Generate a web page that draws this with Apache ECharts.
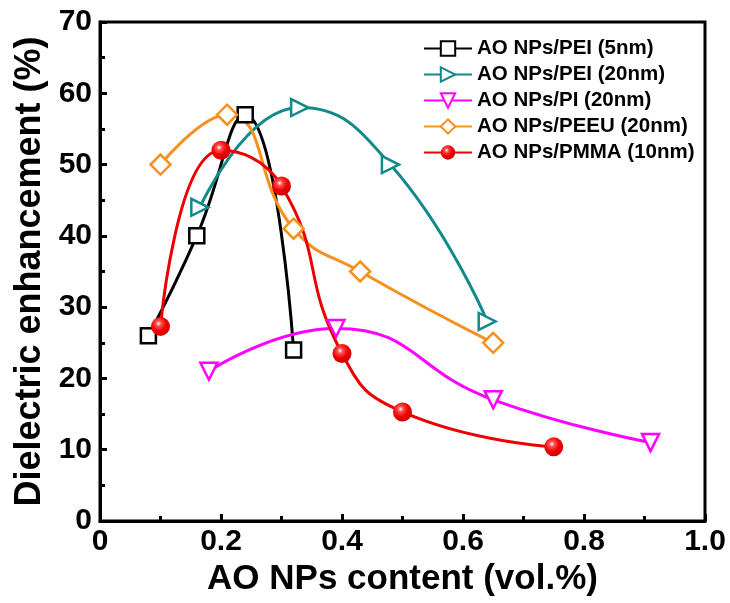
<!DOCTYPE html>
<html><head><meta charset="utf-8">
<script src="https://cdn.jsdelivr.net/npm/echarts@6/dist/echarts.min.js"></script>
<style>html,body{margin:0;padding:0;background:#fff}#c{width:730px;height:603px}</style>
</head><body><div id="c"></div>
<script>
const seriesNames = ['AO NPs/PEI (5nm)','AO NPs/PEI (20nm)','AO NPs/PI (20nm)','AO NPs/PEEU (20nm)','AO NPs/PMMA (10nm)'];
const pei5X = [0.08,0.16,0.24,0.32];
const pei5Y = [26,40,57,24];
const pei20X = [0.165,0.33,0.48,0.64];
const pei20Y = [44,58,50,28];
const pi20X = [0.18,0.39,0.65,0.91];
const pi20Y = [21,27,17,11];
const peeuX = [0.10,0.21,0.32,0.43,0.65];
const peeuY = [50,57,41,35,25];
const pmmaX = [0.10,0.20,0.30,0.40,0.50,0.75];
const pmmaY = [27.3,52,47,23.5,15.3,10.4];

const FONT = 'Liberation Sans, Arial, sans-serif';
const zip = (xs, ys) => xs.map((x, i) => [x, ys[i]]);

const chart = echarts.init(document.getElementById('c'), null, {renderer:'canvas'});
function lineSeries(name, xs, ys, color, symbol, size, rot, filled) {
  return {
    name, type:'line', data: zip(xs, ys), smooth:0.5,
    symbol, symbolSize:size, symbolRotate:rot,
    lineStyle:{color, width:3},
    itemStyle: filled ? {color:filled, borderWidth:0} : {color:'#fff', borderColor:color, borderWidth:2.5},
    color, z: 3
  };
}
const redBall = {type:'radial', x:0.4, y:0.35, r:0.65, colorStops:[
  {offset:0, color:'#ffffff'},{offset:0.22, color:'#ff5050'},{offset:0.6, color:'#f00000'},{offset:1, color:'#d00000'}]};

chart.setOption({
  animation:false,
  backgroundColor:'#fff',
  grid:{left:100, right:25, top:22, bottom:82, show:true, borderColor:'#000', borderWidth:3, backgroundColor:'transparent'},
  legend:{
    orient:'vertical', left:418, top:33, itemWidth:48, itemHeight:18, itemGap:5,
    textStyle:{fontFamily:FONT, fontWeight:'bold', fontSize:20.5, color:'#000'},
    data: seriesNames
  },
  xAxis:{
    type:'value', min:0, max:1, interval:0.2,
    name:'AO NPs content (vol.%)', nameLocation:'middle', nameGap:40,
    nameTextStyle:{fontFamily:FONT, fontWeight:'bold', fontSize:35, color:'#000'},
    axisLine:{show:true, lineStyle:{color:'#000', width:3}},
    axisTick:{show:true, inside:true, length:7, lineStyle:{color:'#000', width:3}},
    minorTick:{show:true, splitNumber:2, length:5, lineStyle:{color:'#000', width:3}},
    splitLine:{show:false},
    axisLabel:{fontFamily:FONT, fontWeight:'bold', fontSize:30, color:'#000', margin:6,
      formatter: v => v === 0 ? '0' : v.toFixed(1)}
  },
  yAxis:{
    type:'value', min:0, max:70, interval:10,
    name:'Dielectric enhancement (%)', nameLocation:'middle', nameGap:50,
    nameTextStyle:{fontFamily:FONT, fontWeight:'bold', fontSize:36, color:'#000'},
    axisLine:{show:true, lineStyle:{color:'#000', width:3}},
    axisTick:{show:true, inside:true, length:7, lineStyle:{color:'#000', width:3}},
    minorTick:{show:true, splitNumber:2, length:5, lineStyle:{color:'#000', width:3}},
    splitLine:{show:false},
    axisLabel:{fontFamily:FONT, fontWeight:'bold', fontSize:30, color:'#000', margin:8}
  },
  series:[
    lineSeries(seriesNames[0], pei5X, pei5Y, '#000000', 'rect', 15, 0, null),
    lineSeries(seriesNames[1], pei20X, pei20Y, '#138a8a', 'triangle', 17, -90, null),
    lineSeries(seriesNames[2], pi20X, pi20Y, '#ff00ff', 'triangle', 17, 180, null),
    lineSeries(seriesNames[3], peeuX, peeuY, '#f7901e', 'diamond', 20, 0, null),
    lineSeries(seriesNames[4], pmmaX, pmmaY, '#ee0000', 'circle', 19, 0, redBall)
  ]
});
</script></body></html>
